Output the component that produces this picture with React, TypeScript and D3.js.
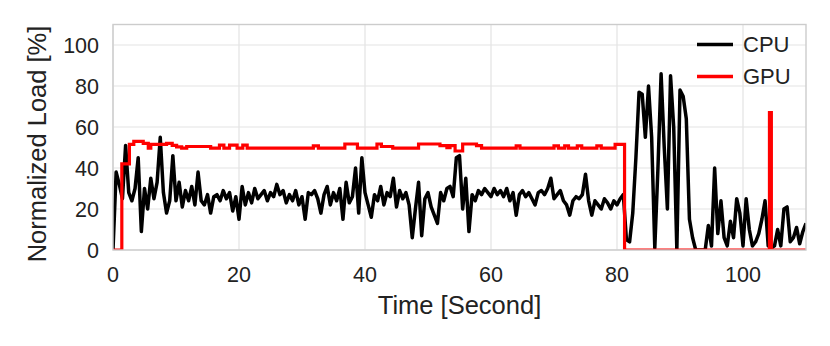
import React, { useEffect, useRef } from 'react';
import * as d3 from 'd3';

// CPU load sampled every 0.5 s, from t = 0 to t = 110
const sampleStep = 0.5;
const cpuLoad = [
  0, 38, 32, 25, 51, 28, 24, 30, 45, 9, 30, 20, 35, 25, 33, 55, 28, 18, 24, 46, 24, 33, 21, 29, 24, 31, 22, 38, 24, 22, 27, 18, 26,
  27, 24, 29, 25, 28, 19, 26, 15, 31, 22, 28, 23, 30, 25, 27, 29, 24, 28, 26, 32, 27, 29, 23, 27, 24, 29, 22, 26, 15, 28,
  27, 29, 25, 18, 27, 31, 22, 28, 24, 30, 15, 33, 23, 26, 40, 18, 45, 28, 22, 16, 27, 24, 31, 22, 28, 26, 35, 21, 29, 25, 28, 22, 6,
  20, 33, 7, 25, 28, 21, 17, 13, 28, 24, 30, 31, 26, 45, 46, 20, 35, 9, 27, 24, 29, 27, 30, 28, 26, 30, 27, 29, 26, 30, 24,
  28, 17, 27, 29, 26, 28, 25, 22, 28, 29, 27, 30, 35, 25, 27, 29, 24, 22, 17, 24, 26, 25, 27, 37, 24, 17, 24, 22, 20, 25, 23, 20,
  24, 22, 25, 27, 5, 4, 18, 45, 77, 76, 55, 80, 55, 1, 40, 86, 50, 20, 85, 60, 0, 78, 75, 64, 15, 6, 0, 0, 0, 0,
  12, 2, 40, 8, 24, 6, 2, 14, 6, 25, 18, 2, 25, 10, 2, 4, 8, 15, 24, 2, 1, 2, 10, 2, 20, 21, 4, 6, 11, 3, 9, 13,
];

// GPU load is a step signal: times where the value changes, and the new value
const gpuTimes = [
  0, 1.4, 2.6, 3.3, 4.8, 5.6, 6.0, 8.5, 9.4, 10.1, 10.9, 11.7, 15.5, 16.9, 17.6, 18.5, 19.7, 20.6, 21.3,
  31.8, 32.6, 36.8, 38.8, 41.9, 42.6, 44.4, 48.5, 51.9, 53.0, 53.5, 54.3, 55.5, 57.7, 58.5,
  64.0, 64.6, 70.0, 70.7, 71.7, 72.3, 73.7, 74.4, 76.8, 77.5, 79.7, 81.2, 104.2, 104.5, 110,
];
const gpuLoad = [
  0, 42, 51.5, 53, 52, 49.7, 51.5, 52, 51, 50.3, 49.7, 50.5, 49.7, 51.2, 49.7, 51.2, 49.7, 51.2, 49.7,
  50.8, 49.7, 51.7, 49.7, 51.7, 50.5, 49.7, 51.7, 50.9, 49.9, 50.9, 48.3, 51.7, 50.9, 49.7,
  50.8, 49.7, 50.8, 49.7, 50.8, 49.7, 50.8, 49.7, 50.8, 49.7, 51.5, 0, 67, 0, 0,
];

const xTicks = [0, 20, 40, 60, 80, 100];
const yTicks = [0, 20, 40, 60, 80, 100];
const seriesNames = ['CPU', 'GPU'];
const seriesColors = ['#000000', '#ff0000'];

const W = 830;
const H = 346;
const margin = { top: 24.5, right: 24, bottom: 96, left: 113 };
const font = '"Liberation Sans", Arial, sans-serif';
const textColor = '#222222';

const App = () => {
  const ref = useRef(null);

  useEffect(() => {
    const svg = d3.select(ref.current);
    svg.selectAll('*').remove();

    const x = d3.scaleLinear().domain([0, 110]).range([margin.left, W - margin.right]);
    const y = d3.scaleLinear().domain([0, 110]).range([H - margin.bottom, margin.top]);

    svg.append('rect').attr('width', W).attr('height', H).attr('fill', '#fff');

    svg.append('clipPath').attr('id', 'plot-clip')
      .append('rect')
      .attr('x', x(0)).attr('y', y(110))
      .attr('width', x(110) - x(0)).attr('height', y(0) - y(110));

    // grid
    const grid = svg.append('g').attr('stroke', '#e3e3e3').attr('stroke-width', 1.2);
    grid.selectAll('.gx').data(xTicks).enter().append('line')
      .attr('x1', d => x(d)).attr('x2', d => x(d))
      .attr('y1', y(0)).attr('y2', y(110));
    grid.selectAll('.gy').data(yTicks).enter().append('line')
      .attr('x1', x(0)).attr('x2', x(110))
      .attr('y1', d => y(d)).attr('y2', d => y(d));

    // lines
    const plot = svg.append('g').attr('clip-path', 'url(#plot-clip)');
    const cpuLine = d3.line<number>()
      .x((d, i) => x(i * sampleStep))
      .y(d => y(d));
    plot.append('path')
      .datum(cpuLoad)
      .attr('fill', 'none')
      .attr('stroke', seriesColors[0])
      .attr('stroke-width', 3.5)
      .attr('stroke-linejoin', 'round')
      .attr('d', cpuLine);

    const gpuLine = d3.line<number>()
      .x((d, i) => x(gpuTimes[i]))
      .y(d => y(d))
      .curve(d3.curveStepAfter);
    plot.append('path')
      .datum(gpuLoad)
      .attr('fill', 'none')
      .attr('stroke', seriesColors[1])
      .attr('stroke-width', 3.2)
      .attr('d', gpuLine);

    // frame
    svg.append('rect')
      .attr('x', x(0)).attr('y', y(110))
      .attr('width', x(110) - x(0)).attr('height', y(0) - y(110))
      .attr('fill', 'none')
      .attr('stroke', '#cccccc')
      .attr('stroke-width', 1.4);

    // tick labels
    svg.selectAll('.xt').data(xTicks).enter().append('text')
      .attr('x', d => x(d)).attr('y', y(0) + 32)
      .attr('text-anchor', 'middle')
      .attr('font-family', font).attr('font-size', 21.5).attr('fill', textColor)
      .text(d => d);
    svg.selectAll('.yt').data(yTicks).enter().append('text')
      .attr('x', x(0) - 14).attr('y', d => y(d) + 7.5)
      .attr('text-anchor', 'end')
      .attr('font-family', font).attr('font-size', 21.5).attr('fill', textColor)
      .text(d => d);

    // axis titles
    svg.append('text')
      .attr('x', (x(0) + x(110)) / 2).attr('y', 314)
      .attr('text-anchor', 'middle')
      .attr('font-family', font).attr('font-size', 25.5).attr('fill', textColor)
      .text('Time [Second]');
    svg.append('text')
      .attr('transform', 'translate(46, 144) rotate(-90)')
      .attr('text-anchor', 'middle')
      .attr('font-family', font).attr('font-size', 25.5).attr('fill', textColor)
      .text('Normalized Load [%]');

    // legend
    const legend = svg.append('g');
    seriesNames.forEach((name, i) => {
      const ly = 44.5 + i * 32;
      legend.append('line')
        .attr('x1', 697).attr('x2', 733)
        .attr('y1', ly).attr('y2', ly)
        .attr('stroke', seriesColors[i]).attr('stroke-width', 3.5);
      legend.append('text')
        .attr('x', 743).attr('y', ly + 7.5)
        .attr('font-family', font).attr('font-size', 22).attr('fill', textColor)
        .text(name);
    });
  }, []);

  return (
    <svg ref={ref} width={W} height={H} style={{ position: 'absolute', left: 0, top: 0 }}></svg>
  );
};

export default App;
